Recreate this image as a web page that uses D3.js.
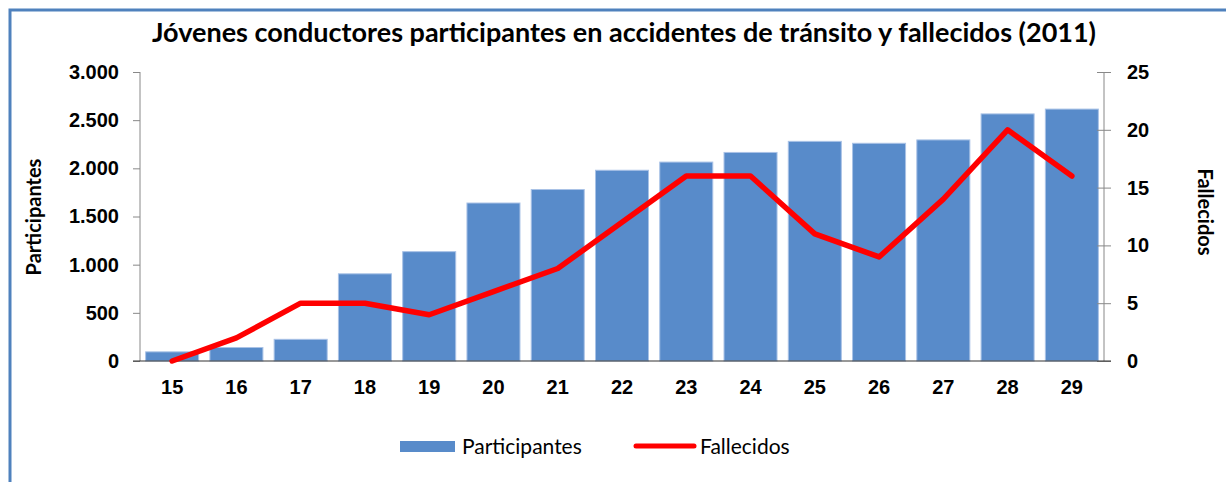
<!DOCTYPE html>
<html lang="es">
<head>
    <meta charset="UTF-8">
    <title>Jóvenes conductores participantes en accidentes de tránsito y fallecidos (2011)</title>
    <script src="https://d3js.org/d3.v7.min.js"></script>
    <style>
        body { margin: 0; background: #fff; }
        svg { display: block; font-family: Lato, "Open Sans", sans-serif; }
        .tick text { font-weight: bold; font-size: 20px; fill: #000; }
        .axis-label { font-weight: bold; font-size: 20px; fill: #000; }
    </style>
</head>
<body>
    <svg id="chart" width="1226" height="482"></svg>

    <script>
        const ages = ["15", "16", "17", "18", "19", "20", "21", "22", "23", "24", "25", "26", "27", "28", "29"];
        const participantes = [95, 140, 225, 905, 1135, 1640, 1780, 1980, 2065, 2165, 2280, 2260, 2295, 2565, 2615];
        const fallecidos = [0, 2, 5, 5, 4, 6, 8, 12, 16, 16, 11, 9, 14, 20, 16];
        const leftTicks = [0, 500, 1000, 1500, 2000, 2500, 3000];
        const rightTicks = [0, 5, 10, 15, 20, 25];

        const svg = d3.select("#chart");
        const margin = {top: 72, left: 140, right: 122, bottom: 121};
        const width = +svg.attr("width") - margin.left - margin.right;
        const height = +svg.attr("height") - margin.top - margin.bottom;

        // outer frame, only top and left edges show
        svg.append("rect")
            .attr("x", 10).attr("y", 10)
            .attr("width", 1400).attr("height", 800)
            .attr("fill", "none")
            .attr("stroke", "#4F81BD")
            .attr("stroke-width", 3);

        svg.append("text")
            .attr("x", 624).attr("y", 42)
            .attr("text-anchor", "middle")
            .attr("font-weight", "bold")
            .attr("font-size", "27px")
            .text("Jóvenes conductores participantes en accidentes de tránsito y fallecidos (2011)");

        const g = svg.append("g").attr("transform", `translate(${margin.left},${margin.top})`);

        const x = d3.scaleBand()
            .domain(ages)
            .range([0, width])
            .paddingInner(0.175)
            .paddingOuter(0.0875);

        const y = d3.scaleLinear().domain([0, 3000]).range([height, 0]);
        const y2 = d3.scaleLinear().domain([0, 25]).range([height, 0]);

        const fmt = d3.formatLocale({decimal: ",", thousands: ".", grouping: [3], currency: ["", ""]}).format(",d");

        g.selectAll("rect.bar")
            .data(ages)
            .enter().append("rect")
            .attr("class", "bar")
            .attr("x", d => x(d))
            .attr("y", (d, i) => y(participantes[i]))
            .attr("width", x.bandwidth())
            .attr("height", (d, i) => height - y(participantes[i]))
            .attr("fill", "#588BCA")
            .attr("stroke", "#A9C2E6")
            .attr("stroke-width", 1);

        const yAxis = g.append("g")
            .call(d3.axisLeft(y).tickValues(leftTicks).tickFormat(fmt).tickSize(7).tickPadding(14));
        yAxis.select(".domain").attr("stroke", "#888").attr("d", `M0,0V${height}`);
        yAxis.selectAll(".tick line").attr("stroke", "#888");

        const y2Axis = g.append("g")
            .attr("transform", `translate(${width},0)`)
            .call(d3.axisRight(y2).tickValues(rightTicks).tickSize(7).tickPadding(16));
        y2Axis.select(".domain").attr("stroke", "#888").attr("d", `M0,0V${height}`);
        y2Axis.selectAll(".tick line").attr("stroke", "#888").attr("x1", -7);

        const xAxis = g.append("g")
            .attr("transform", `translate(0,${height})`)
            .call(d3.axisBottom(x).tickSize(0).tickPadding(19));
        xAxis.select(".domain").attr("stroke", "#333").attr("d", `M-7,0H${width + 7}`);

        const line = d3.line()
            .x((d, i) => x(ages[i]) + x.bandwidth() / 2)
            .y(d => y2(d));

        g.append("path")
            .datum(fallecidos)
            .attr("d", line)
            .attr("fill", "none")
            .attr("stroke", "#FF0000")
            .attr("stroke-width", 5.5)
            .attr("stroke-linejoin", "round")
            .attr("stroke-linecap", "round");

        svg.append("text")
            .attr("class", "axis-label")
            .attr("transform", "translate(41,217) rotate(-90)")
            .attr("text-anchor", "middle")
            .text("Participantes");

        svg.append("text")
            .attr("class", "axis-label")
            .attr("transform", "translate(1198,212) rotate(90)")
            .attr("text-anchor", "middle")
            .text("Fallecidos");

        // legend
        const legend = svg.append("g").attr("font-size", "21px");
        legend.append("rect")
            .attr("x", 400).attr("y", 441)
            .attr("width", 55).attr("height", 11)
            .attr("fill", "#588BCA");
        legend.append("text")
            .attr("x", 462).attr("y", 454)
            .text("Participantes");
        legend.append("line")
            .attr("x1", 636).attr("x2", 694)
            .attr("y1", 446).attr("y2", 446)
            .attr("stroke", "#FF0000")
            .attr("stroke-width", 5)
            .attr("stroke-linecap", "round");
        legend.append("text")
            .attr("x", 700).attr("y", 454)
            .text("Fallecidos");
    </script>
</body>
</html>
